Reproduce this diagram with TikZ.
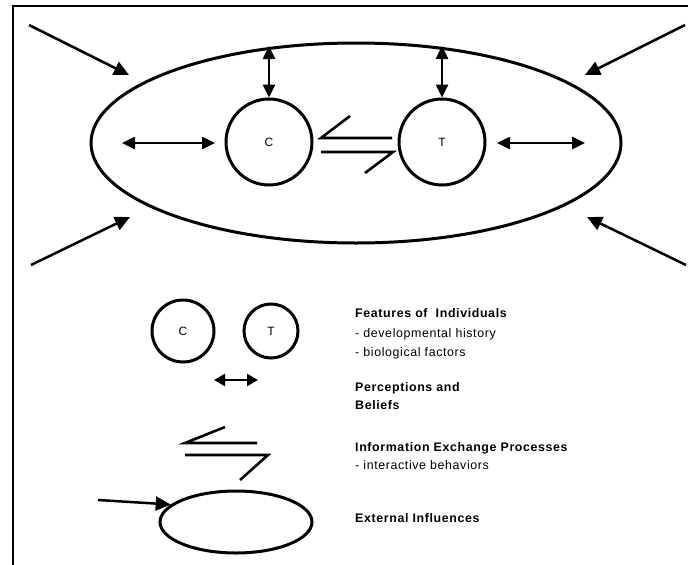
\documentclass[tikz,border=0pt]{standalone}
\usepackage{fontspec}
\setmainfont{Liberation Sans}
\newfontfamily\legendfont[LetterSpace=5]{Liberation Sans}
\usetikzlibrary{arrows.meta}
\usetikzlibrary{shapes.geometric}

\tikzset{
 ring/.style={draw, circle, line width=3pt, inner sep=0pt, font=\fontsize{12}{13}\selectfont},
 oval/.style={draw, ellipse, line width=3pt, inner sep=0pt},
 dbl/.style={line width=2.5pt, {Triangle[length=13pt,width=12pt]}-{Triangle[length=13pt,width=12pt]}},
 push/.style={line width=2.5pt, -{Triangle[length=15pt,width=14pt]}},
 swap/.style={line width=2.6pt, line join=miter},
 legend/.style={anchor=base west, inner sep=0pt, font=\legendfont\fontsize{12.4}{13}\selectfont},
 legendbf/.style={legend, font=\legendfont\bfseries\fontsize{12.4}{13}\selectfont},
}

\begin{document}
\begin{tikzpicture}[x=1pt,y=-1pt]
\useasboundingbox (0,0) rectangle (694,565);
\draw[line width=2.8pt] (13,565) -- (13,6) -- (688,6);

\node[oval, minimum width=530, minimum height=200] (outer) at (356,143) {};
\node[ring, minimum size=86] (C) at (269,142) {C};
\node[ring, minimum size=86] (T) at (442,142) {T};

\coordinate (ctop) at (269,46);
\coordinate (ttop) at (442,46);
\coordinate (cleft) at (122,143);
\coordinate (cright) at (215,143);
\coordinate (tleft) at (497,143);
\coordinate (tright) at (585,143);
\draw[dbl] (ctop) -- (C.north);
\draw[dbl] (ttop) -- (T.north);
\draw[dbl] (cleft) -- (cright);
\draw[dbl] (tleft) -- (tright);

\draw[swap] (392,138) -- (321,138) -- (350,116);
\draw[swap] (321,152) -- (393,152) -- (365,173);

\foreach \sx/\sy/\ex/\ey in {29/25/129/75, 685/25/585/75, 31/265/130/217, 686/265/587/217} {
 \coordinate (from) at (\sx,\sy);
 \coordinate (to) at (\ex,\ey);
 \draw[push] (from) -- (to);
}

\node[ring, minimum size=62] (lc) at (183,331) {C};
\node[ring, minimum size=54] (lt) at (271,331) {T};
\coordinate (pl) at (214,380);
\coordinate (pr) at (258,380);
\draw[line width=2.5pt, {Triangle[length=11pt,width=12pt]}-{Triangle[length=11pt,width=12pt]}] (pl) -- (pr);
\draw[swap] (257,443) -- (185,443) -- (225,427);
\draw[swap] (185,455) -- (268,455) -- (240,480);
\node[oval, minimum width=152, minimum height=62] (ext) at (236,522) {};
\coordinate (extin) at (98,500);
\draw[push] (extin) -- (ext.165);

\node[legendbf] (feat) at (355,317) {Features of \ Individuals};
\node[legend] (hist) at (355,337) {- developmental history};
\node[legend] (bio) at (355,356) {- biological factors};
\node[legendbf] (perc) at (355,391) {Perceptions and};
\node[legendbf] (bel) at (355,409) {Beliefs};
\node[legendbf] (info) at (355,451) {Information Exchange Processes};
\node[legend] (inter) at (355,469) {- interactive behaviors};
\node[legendbf] (extl) at (355,522) {External Influences};
\end{tikzpicture}
\end{document}
